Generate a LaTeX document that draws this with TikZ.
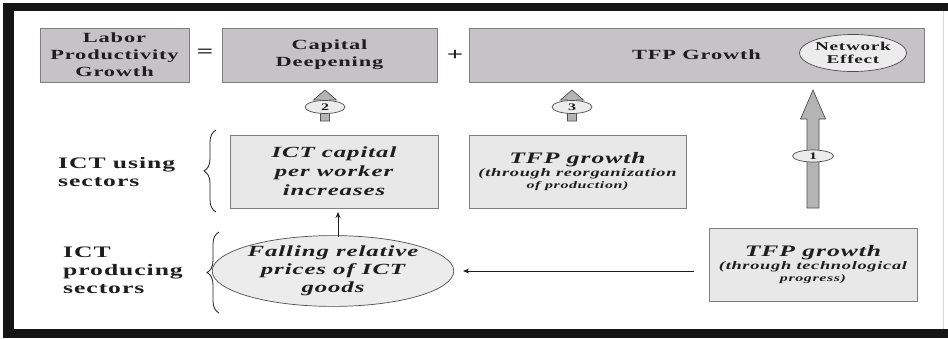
\documentclass[tikz,border=0pt]{standalone}
\usepackage{fontspec}
\setmainfont{Liberation Serif}[FakeStretch=1.6,LetterSpace=6]
\usetikzlibrary{shapes.geometric,decorations.pathreplacing,arrows.meta}
\definecolor{topfill}{HTML}{C5C3C6}
\definecolor{midfill}{HTML}{E8E8E8}
\definecolor{ellfill}{HTML}{ECECEC}
\definecolor{boxline}{HTML}{7E7E7E}
\definecolor{arrfill}{HTML}{B4B4B4}
\definecolor{arrline}{HTML}{4E4E4E}
\definecolor{ink}{HTML}{1E1E1E}
\definecolor{frame}{HTML}{151515}
\tikzset{
  topbox/.style={draw=boxline, line width=0.9pt, fill=topfill, minimum height=54pt, inner sep=0pt, align=center, text=ink,
    font=\bfseries\fontsize{14}{17}\selectfont},
  midbox/.style={draw=boxline, line width=0.9pt, fill=midfill, minimum height=73pt, inner sep=0pt, align=center, text=ink},
  ovalbox/.style={ellipse, draw=arrline, line width=0.7pt, fill=ellfill, inner sep=0pt, align=center, text=ink},
  numoval/.style={ellipse, draw=arrline, line width=0.7pt, fill=ellfill, inner sep=0pt, minimum width=40pt, minimum height=13pt,
    font=\bfseries\fontsize{10}{10}\selectfont, text=ink},
  sidelabel/.style={align=left, anchor=west, inner sep=0pt, text=ink, font=\bfseries\fontsize{16}{18}\selectfont},
  sign/.style={inner sep=0pt, text=ink, font=\bfseries\fontsize{18}{18}\selectfont},
  blockarrow/.style={draw=arrline, line width=0.7pt, fill=arrfill, line join=miter},
  sidebrace/.style={decorate, decoration={brace, amplitude=12pt, aspect=0.5}, draw=ink, line width=0.8pt},
  thinarrow/.style={-{Stealth[length=6pt,width=5pt]}, draw=ink, line width=0.8pt}
}
\begin{document}
\begin{tikzpicture}[x=1pt,y=-1pt]
\useasboundingbox (0,0) rectangle (948,338);
% frame
\fill[white] (0,0) rectangle (948,338);
\fill[frame] (3,3) rectangle (948,11);
\fill[frame] (3,3) rectangle (14,338);
\fill[frame] (3,329) rectangle (948,338);
\draw[black!15, line width=0.8pt] (943,11) -- (943,329);

% top row
\node[topbox, minimum width=149pt] (lpg) at (114.5,55) {Labor\\Productivity\\Growth};
\node[sign] (eq) at (205,53) {=};
\node[topbox, minimum width=215pt] (cd) at (329.5,55) {Capital\\Deepening};
\node[sign] (plus) at (455,55) {+};
\node[topbox, minimum width=455pt] (tfp) at (696.5,55) {TFP Growth};
\node[ovalbox, minimum width=92pt, minimum height=37pt, font=\bfseries\fontsize{12}{13.5}\selectfont] (net) at (853,53) {Network\\Effect};

% middle row
\node[midbox, minimum width=208pt, font=\bfseries\itshape\fontsize{15.5}{19}\selectfont] (cap) at (334,171.5) {ICT capital\\per worker\\increases};
\node[midbox, minimum width=217pt, font=\bfseries\itshape] (reorg) at (577.5,171.5) {\fontsize{16}{18}\selectfont TFP growth\\[1pt]\fontsize{11.5}{12.5}\selectfont (through reorganization\\of production)};

% bottom row
\node[ovalbox, minimum width=207pt, minimum height=65pt, font=\bfseries\itshape\fontsize{15.5}{18}\selectfont] (fall) at (333,271) {Falling relative\\prices of ICT\\goods};
\node[midbox, minimum width=208pt, font=\bfseries\itshape] (tech) at (813,264.5) {\fontsize{16}{18}\selectfont TFP growth\\[1pt]\fontsize{11.5}{14}\selectfont (through technological\\progress)};

% side labels
\node[sidelabel] (using) at (58,172) {ICT using\\sectors};
\node[sidelabel] (producing) at (63,270) {ICT\\producing\\sectors};
\draw[sidebrace] (216,212) -- (216,130);
\draw[sidebrace] (219,313) -- (219,232);

% block arrows
\draw[blockarrow] (320.5,121) -- (320.5,100) -- (313.5,100) -- (325,90) -- (336.5,100) -- (329.5,100) -- (329.5,121) -- cycle;
\node[numoval] (n2) at (325,107) {2};
\draw[blockarrow] (567.5,121) -- (567.5,100) -- (560.5,100) -- (572,90) -- (583.5,100) -- (576.5,100) -- (576.5,121) -- cycle;
\node[numoval] (n3) at (572,107) {3};
\draw[blockarrow] (807,208) -- (807,119) -- (800.5,119) -- (813,90) -- (825.5,119) -- (819,119) -- (819,208) -- cycle;
\node[numoval, minimum width=41pt, minimum height=12pt] (n1) at (813,156) {1};

% thin arrows
\coordinate (up1) at (338,237);
\coordinate (up2) at (338,212);
\draw[thinarrow] (up1) -- (up2);
\draw[thinarrow] ([xshift=-15pt]tech.west |- fall.east) -- ([xshift=9pt]fall.east);
\end{tikzpicture}
\end{document}
